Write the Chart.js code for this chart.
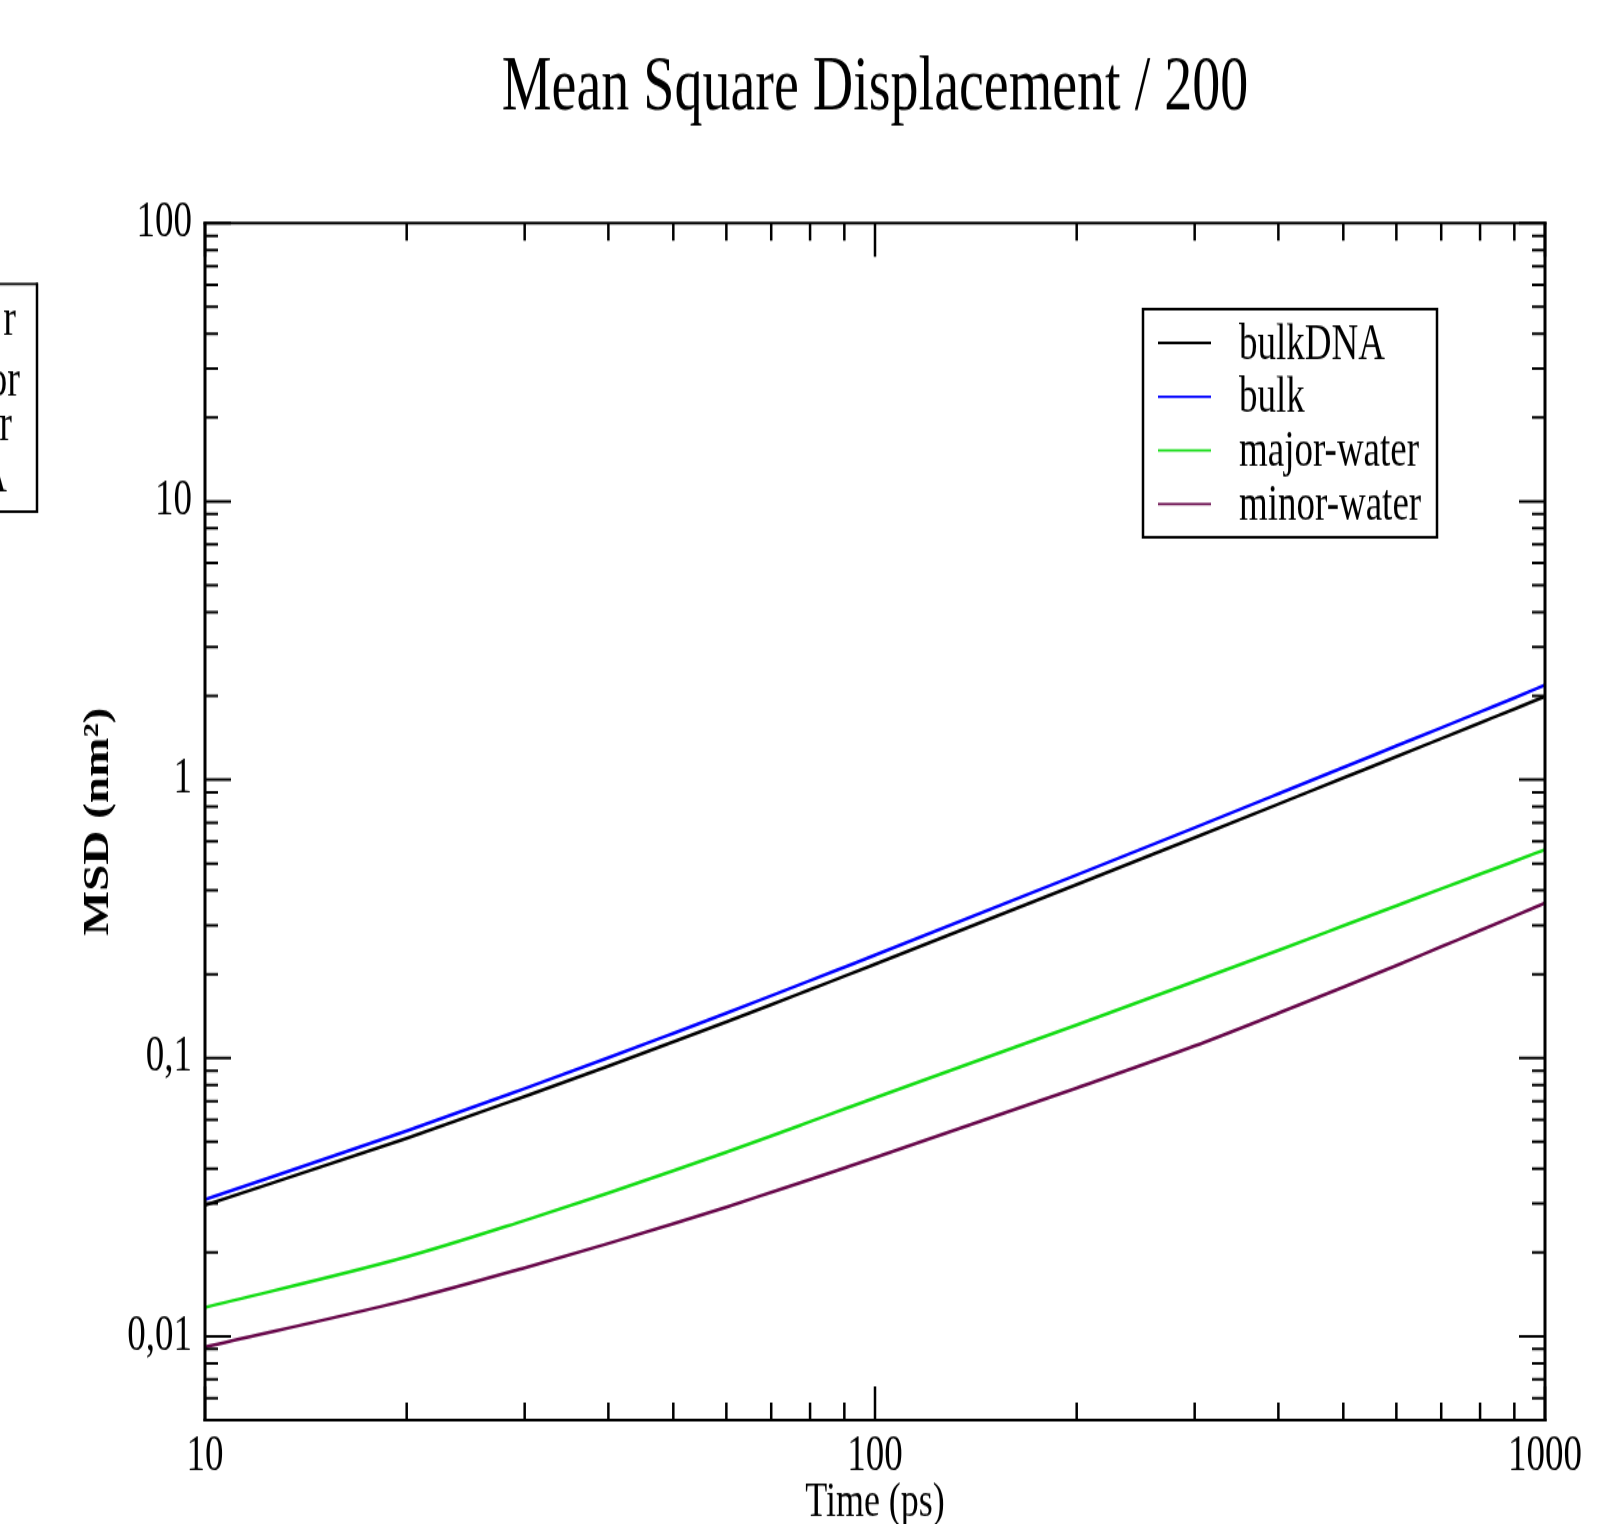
<!DOCTYPE html>
<html>
<head>
<meta charset="utf-8">
<title>Mean Square Displacement / 200</title>
<script src="https://cdn.jsdelivr.net/npm/chart.js@4.4.1/dist/chart.umd.min.js"></script>
<style>
  html { overflow: hidden; }
  body { margin: 0; padding: 0; background: #fff; }
  #page { width: 1614px; height: 1524px; position: relative; }
  /* the original plot is stretched vertically, so the whole canvas is too */
  #wrap { position: absolute; left: 0; top: 0; width: 1614px; height: 1129px; transform: scaleY(1.3499); transform-origin: 0 0; }
  canvas { display: block; }
</style>
</head>
<body>
<div id="page"><div id="wrap"><canvas id="msdChart" width="1614" height="1129"></canvas></div></div>
<script>
const FONT = "'Liberation Serif', 'Times New Roman', serif";

// time (ps)
const times = [10, 20, 30, 40, 50, 60, 70, 80, 90, 100, 200, 300, 400, 500, 600, 700, 800, 900, 1000];

// MSD (nm^2)
const bulkDNA    = [0.0296, 0.0515, 0.0728, 0.0936, 0.1143, 0.1349, 0.1555, 0.1762, 0.1967, 0.2173, 0.4198, 0.619, 0.817, 1.014, 1.209, 1.405, 1.6, 1.794, 1.99];
const bulk       = [0.031, 0.0547, 0.0777, 0.1002, 0.1227, 0.145, 0.1674, 0.1897, 0.212, 0.2342, 0.4547, 0.6725, 0.8896, 1.106, 1.322, 1.537, 1.752, 1.966, 2.19];
const majorWater = [0.0127, 0.0193, 0.02608, 0.03275, 0.03932, 0.0459, 0.0525, 0.05907, 0.06555, 0.07194, 0.1315, 0.1883, 0.2438, 0.2985, 0.3523, 0.4054, 0.4577, 0.5094, 0.5607];
const minorWater = [0.00916, 0.01349, 0.01763, 0.02157, 0.02538, 0.02914, 0.03292, 0.03663, 0.04028, 0.04388, 0.078, 0.1105, 0.1449, 0.1798, 0.215, 0.2511, 0.2872, 0.3236, 0.3602];

const seriesLabels = ['bulkDNA', 'bulk', 'major-water', 'minor-water'];
const seriesColors = ['#000000', '#0000ff', '#14dc14', '#67074a'];

const xTickValues = [10, 100, 1000];
const xTickLabels = ['10', '100', '1000'];
const yTickValues = [0.01, 0.1, 1, 10, 100];
const yTickLabels = ['0,01', '0,1', '1', '10', '100'];

// clipped legend of another plot, at the left edge
const leftFragments = ['r', 'or', 'r', 'A'];

const series = [bulkDNA, bulk, majorWater, minorWater];

// every 1..9 x 10^n between min and max
function logTicks(min, max) {
    const out = [];
    for (let d = Math.floor(Math.log10(min)); d <= Math.ceil(Math.log10(max)); d++) {
        for (let m = 1; m <= 9; m++) {
            const v = m * Math.pow(10, d);
            if (v >= min * 0.999 && v <= max * 1.001) out.push({ v: v, major: m === 1 });
        }
    }
    return out;
}

const framePlugin = {
    id: 'frame',
    afterDatasetsDraw(chart) {
        const { ctx, chartArea: a, scales: { x, y } } = chart;
        ctx.save();
        ctx.strokeStyle = '#000';

        // time ticks, bottom and top, pointing inward
        ctx.lineWidth = 2.5;
        logTicks(x.min, x.max).forEach(t => {
            const px = x.getPixelForValue(t.v);
            const len = t.major ? 25 : 13;
            ctx.beginPath();
            ctx.moveTo(px, a.bottom); ctx.lineTo(px, a.bottom - len);
            ctx.moveTo(px, a.top); ctx.lineTo(px, a.top + len);
            ctx.stroke();
        });

        // msd ticks, left and right
        ctx.lineWidth = 2;
        logTicks(y.min, y.max).forEach(t => {
            const py = y.getPixelForValue(t.v);
            const len = t.major ? 26 : 13;
            ctx.beginPath();
            ctx.moveTo(a.left, py); ctx.lineTo(a.left + len, py);
            ctx.moveTo(a.right, py); ctx.lineTo(a.right - len, py);
            ctx.stroke();
        });

        // box
        ctx.lineWidth = 3;
        ctx.beginPath();
        ctx.moveTo(a.left, a.top - 1); ctx.lineTo(a.left, a.bottom + 1);
        ctx.moveTo(a.right, a.top - 1); ctx.lineTo(a.right, a.bottom + 1);
        ctx.stroke();
        ctx.lineWidth = 2;
        ctx.beginPath();
        ctx.moveTo(a.left - 1.5, a.top); ctx.lineTo(a.right + 1.5, a.top);
        ctx.moveTo(a.left - 1.5, a.bottom); ctx.lineTo(a.right + 1.5, a.bottom);
        ctx.stroke();
        ctx.restore();
    }
};

const legendBox = { left: 1143, right: 1437, top: 229, bottom: 398, lineX0: 1158, lineX1: 1211, textX: 1239, firstRow: 254, rowStep: 39.8 };

const legendPlugin = {
    id: 'boxLegend',
    afterDraw(chart) {
        const ctx = chart.ctx;
        const b = legendBox;
        ctx.save();
        ctx.fillStyle = '#fff';
        ctx.fillRect(b.left, b.top, b.right - b.left, b.bottom - b.top);
        ctx.strokeStyle = '#000';
        ctx.lineWidth = 2.5;
        ctx.beginPath();
        ctx.moveTo(b.left, b.top - 1); ctx.lineTo(b.left, b.bottom + 1);
        ctx.moveTo(b.right, b.top - 1); ctx.lineTo(b.right, b.bottom + 1);
        ctx.stroke();
        ctx.lineWidth = 1.8;
        ctx.beginPath();
        ctx.moveTo(b.left, b.top); ctx.lineTo(b.right, b.top);
        ctx.moveTo(b.left, b.bottom); ctx.lineTo(b.right, b.bottom);
        ctx.stroke();

        ctx.font = '37px ' + FONT;
        ctx.textBaseline = 'alphabetic';
        ctx.textAlign = 'left';
        chart.data.datasets.forEach((ds, i) => {
            const yRow = b.firstRow + i * b.rowStep;
            ctx.strokeStyle = ds.borderColor;
            ctx.lineWidth = 1.8;
            ctx.beginPath();
            ctx.moveTo(b.lineX0, yRow); ctx.lineTo(b.lineX1, yRow);
            ctx.stroke();
            ctx.fillStyle = '#000';
            ctx.fillText(ds.label, b.textX, yRow + 11.5);
        });

        // the cut-off box on the left edge
        ctx.strokeStyle = '#000';
        ctx.lineWidth = 2.5;
        ctx.beginPath();
        ctx.moveTo(37, 209.5); ctx.lineTo(37, 380);
        ctx.stroke();
        ctx.lineWidth = 1.8;
        ctx.beginPath();
        ctx.moveTo(0, 210.4); ctx.lineTo(38, 210.4);
        ctx.moveTo(0, 379); ctx.lineTo(38, 379);
        ctx.stroke();
        ctx.font = '38px ' + FONT;
        ctx.textAlign = 'right';
        ctx.fillStyle = '#000';
        const fragX = [16, 20, 12, 7];
        const fragY = [248, 292.6, 326, 364.4];
        leftFragments.forEach((s, i) => ctx.fillText(s, fragX[i], fragY[i]));
        ctx.restore();
    }
};

new Chart(document.getElementById('msdChart'), {
    type: 'line',
    data: {
        datasets: series.map((values, i) => ({
            label: seriesLabels[i],
            data: times.map((t, j) => ({ x: t, y: values[j] })),
            borderColor: seriesColors[i],
            backgroundColor: seriesColors[i],
            borderWidth: 2.5,
            pointRadius: 0,
            cubicInterpolationMode: 'monotone',
            fill: false
        }))
    },
    options: {
        responsive: false,
        animation: false,
        events: [],
        layout: { padding: { left: 0, right: 69, top: 0, bottom: 0 } },
        plugins: {
            legend: { display: false },
            tooltip: { enabled: false },
            title: {
                display: true,
                fullSize: false,
                text: 'Mean Square Displacement / 200',
                color: '#000',
                font: { family: FONT, size: 56, weight: 'normal', lineHeight: 1.2 },
                padding: { top: 33, bottom: 65 }
            }
        },
        scales: {
            x: {
                type: 'logarithmic',
                position: 'bottom',
                min: 10,
                max: 1000,
                grid: { display: false, drawTicks: false },
                border: { display: false },
                afterBuildTicks: axis => { axis.ticks = xTickValues.map(v => ({ value: v })); },
                afterFit: scale => { scale.height = 77; },
                ticks: {
                    color: '#000',
                    font: { family: FONT, size: 37 },
                    padding: 5,
                    maxRotation: 0,
                    autoSkip: false,
                    callback: v => xTickLabels[xTickValues.indexOf(v)]
                },
                title: {
                    display: true,
                    text: 'Time (ps)',
                    color: '#000',
                    font: { family: FONT, size: 36, lineHeight: 1.2 },
                    padding: { top: 0, bottom: -6 }
                }
            },
            y: {
                type: 'logarithmic',
                position: 'left',
                min: 0.005,
                max: 100,
                grid: { display: false, drawTicks: false },
                border: { display: false },
                afterBuildTicks: axis => { axis.ticks = yTickValues.map(v => ({ value: v })); },
                afterFit: scale => { scale.width = 205; },
                ticks: {
                    color: '#000',
                    font: { family: FONT, size: 37 },
                    padding: 13,
                    autoSkip: false,
                    callback: v => yTickLabels[yTickValues.indexOf(v)]
                },
                title: {
                    display: true,
                    text: 'MSD (nm²)',
                    color: '#000',
                    font: { family: FONT, size: 35, weight: 'bold', lineHeight: 1.2 },
                    padding: { top: 78, bottom: 0 }
                }
            }
        }
    },
    plugins: [framePlugin, legendPlugin]
});
</script>
</body>
</html>
